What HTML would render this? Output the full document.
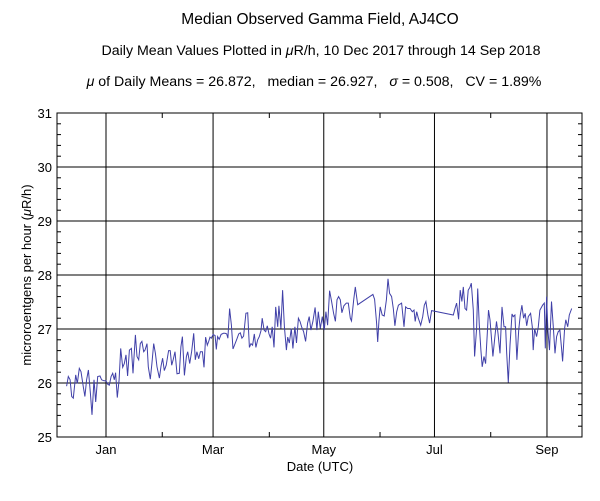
<!DOCTYPE html>
<html><head><meta charset="utf-8"><style>
body{margin:0;background:#fff;}
svg text{font-family:"Liberation Sans",sans-serif;fill:#000;}
</style></head><body>
<svg id="chart" width="600" height="496" xmlns="http://www.w3.org/2000/svg">
<text x="320" y="24" font-size="15.5" text-anchor="middle">Median Observed Gamma Field, AJ4CO</text>
<text x="321" y="55" font-size="14.2" text-anchor="middle">Daily Mean Values Plotted in <tspan font-style="italic">μ</tspan>R/h, 10 Dec 2017 through 14 Sep 2018</text>
<text x="314" y="86" font-size="14.2" text-anchor="middle" style="white-space:pre" xml:space="preserve"><tspan font-style="italic">μ</tspan> of Daily Means = 26.872,   median = 26.927,   <tspan font-style="italic">σ</tspan> = 0.508,   CV = 1.89%</text>
<g id="grid"></g><g id="ticks"></g><g id="labels"></g><g id="series"></g>
<rect x="57" y="113" width="525" height="324" fill="none" stroke="#000" stroke-width="1"/>
<text x="320" y="471" font-size="13" text-anchor="middle">Date (UTC)</text>
<text transform="translate(31,275) rotate(-90)" font-size="13" text-anchor="middle">microroentgens per hour (<tspan font-style="italic">μ</tspan>R/h)</text>
</svg>
<script>
// day offsets from 1 Jan 2018
const days=[-21.7,-20.8,-19.8,-18.9,-18.0,-16.7,-15.8,-14.7,-13.8,-12.5,-11.6,-10.7,-9.7,-8.6,-7.7,-6.6,-5.7,-4.6,-3.3,-2.4,-1.1,0.0,0.9,1.8,2.8,3.7,4.6,5.3,6.2,7.2,8.1,9.2,10.1,11.0,11.9,12.9,14.0,14.9,16.2,17.1,18.0,18.9,19.8,20.8,21.5,22.6,23.3,24.4,25.3,26.3,27.2,28.1,29.4,30.3,31.2,32.1,33.2,34.5,35.4,36.2,37.1,38.0,39.1,40.4,41.3,42.1,43.2,44.3,45.0,46.1,47.2,48.3,49.2,50.1,51.1,52.0,53.1,54.0,54.9,55.8,56.6,57.3,58.0,59.0,60.1,60.8,61.5,62.4,63.4,64.7,65.6,66.5,67.2,68.1,69.1,70.0,72.2,73.1,74.0,74.9,75.8,77.1,78.1,79.0,79.9,80.8,81.7,82.6,83.6,84.5,85.4,86.1,87.1,88.0,88.9,89.8,90.7,91.6,92.6,93.5,94.6,95.3,96.4,97.3,98.3,99.4,100.1,101.0,102.1,103.0,104.1,105.0,106.0,106.9,107.8,108.9,110.0,111.1,112.0,112.9,114.0,115.2,116.2,117.0,118.1,119.2,120.3,121.2,122.1,123.2,124.3,125.4,126.4,127.3,128.2,129.1,130.0,131.1,132.4,133.5,134.6,135.3,136.5,137.4,138.7,147.1,148.0,149.1,149.7,150.4,151.1,152.2,153.3,154.5,155.4,156.3,157.4,158.3,159.2,160.2,161.1,162.9,164.2,165.1,166.2,167.5,168.8,169.7,170.4,171.2,172.1,173.4,174.5,175.4,176.3,177.4,178.3,179.4,191.4,192.3,193.2,194.3,195.2,196.1,196.9,197.8,198.7,199.6,200.5,201.3,202.4,203.1,204.2,204.8,205.7,206.6,207.3,208.3,209.2,210.1,210.8,211.6,212.5,213.2,214.3,215.2,216.0,217.1,218.2,219.3,220.2,220.8,221.7,222.6,223.7,224.4,225.3,226.4,227.4,228.3,229.2,230.1,231.0,231.8,232.7,234.0,234.9,235.4,236.2,237.3,238.2,239.1,240.6,241.5,242.1,242.8,243.5,244.4,245.5,246.5,247.4,248.3,249.2,250.1,251.1,251.6,252.7,253.4,254.4,255.3,256.6];
const values=[25.94,26.12,26.06,25.75,25.72,26.15,25.99,26.27,26.21,25.93,25.75,26.06,26.24,25.81,25.41,26.06,25.65,26.12,26.13,26.06,26.04,26.04,25.98,25.96,26.12,26.18,26.06,26.19,25.73,26.06,26.64,26.29,26.36,26.52,26.13,26.61,26.64,26.18,26.89,26.49,26.43,26.73,26.77,26.58,26.61,26.73,26.30,26.07,26.36,26.73,26.55,26.30,26.09,26.31,26.46,26.23,26.33,26.60,26.60,26.33,26.44,26.58,26.17,26.18,26.67,26.86,26.14,26.49,26.58,26.36,26.59,26.92,26.43,26.58,26.45,26.58,26.58,26.29,26.85,26.70,26.77,26.85,26.83,26.90,26.88,26.62,26.86,26.81,26.90,26.92,26.92,26.91,26.83,27.38,27.07,26.63,26.82,26.91,26.93,26.83,26.87,27.29,27.30,26.66,26.73,26.70,26.91,26.66,26.80,26.86,26.97,27.20,26.98,26.95,27.06,26.91,26.83,27.04,26.66,27.41,27.04,27.43,27.01,27.72,27.04,26.61,26.85,26.74,27.01,26.64,27.04,26.74,27.20,27.14,27.04,26.95,26.77,27.11,27.23,26.98,27.14,27.40,26.98,27.32,27.01,27.23,26.98,27.32,27.07,27.71,27.51,27.29,27.14,27.54,27.60,27.54,27.30,27.43,27.48,27.48,27.20,27.15,27.54,27.78,27.45,27.64,27.55,27.11,26.76,27.14,27.41,27.26,27.24,27.54,27.93,27.66,27.60,27.38,27.06,27.32,27.44,27.48,27.04,27.41,27.38,27.38,27.32,27.35,27.14,27.32,27.20,27.07,27.23,27.44,27.51,27.26,27.11,27.34,27.26,27.38,27.48,27.18,27.72,27.51,27.78,27.38,27.35,27.72,27.77,27.85,27.35,26.49,27.01,27.75,27.07,26.61,26.30,26.49,26.36,26.92,27.35,27.17,26.80,26.49,26.86,27.14,26.92,26.55,27.41,27.04,27.04,26.55,26.01,26.70,27.28,27.23,27.26,26.43,26.98,27.26,27.44,27.20,27.29,27.06,27.23,27.29,27.04,26.61,27.01,26.86,27.04,27.35,27.44,27.48,26.64,27.60,26.98,26.61,27.51,27.04,26.55,26.86,26.95,26.98,26.61,26.40,27.01,27.17,27.04,27.26,27.38];
const yTicks=[25,26,27,28,29,30,31];
const monthStarts=[0,31,59,90,120,151,181,212,243];
const monthLabels=["Jan","","Mar","","May","","Jul","","Sep"];

const X0=57,X1=582,Y0=437,Y1=113,DMAX=262.3;
const xs=d=>106+(d)*( (X1-106)/DMAX );
const ys=v=>Y0-(v-25)/6*(Y0-Y1);
const NS="http://www.w3.org/2000/svg";
function mk(tag,attrs,parent){const e=document.createElementNS(NS,tag);for(const k in attrs)e.setAttribute(k,attrs[k]);document.getElementById(parent).appendChild(e);return e;}
yTicks.forEach(v=>{
  const y=ys(v);
  const g=mk('line',{x1:X0,x2:X1,y1:y,y2:y,stroke:'#000','stroke-width':1},'grid');
  
  
  const t=mk('text',{x:X0-5,y:y+5,'font-size':13,'text-anchor':'end'},'labels');
  t.textContent=v;
  
  
  if(v<31){for(let k=1;k<5;k++){const yy=ys(v+k*0.2);
    const m1=mk('line',{x1:X0,x2:X0+4,y1:yy,y2:yy,stroke:'#000'},'ticks');
    
    
    const m2=mk('line',{x1:X1-4,x2:X1,y1:yy,y2:yy,stroke:'#000'},'ticks');
    
    }}
});
monthStarts.forEach((d,i)=>{
  const x=xs(d);
  if(monthLabels[i]){
    const g=mk('line',{x1:x,x2:x,y1:Y1,y2:Y0,stroke:'#000','stroke-width':1},'grid');
    
    
    const t=mk('text',{x:x,y:Y0+17,'font-size':13,'text-anchor':'middle'},'labels');
    t.textContent=monthLabels[i];
    
    
  } else {
    const a=mk('line',{x1:x,x2:x,y1:Y0-5,y2:Y0,stroke:'#000'},'ticks');
    
    
    const b=mk('line',{x1:x,x2:x,y1:Y1,y2:Y1+5,stroke:'#000'},'ticks');
    
    
  }
});
const pts=days.map((d,i)=>xs(d).toFixed(1)+','+ys(values[i]).toFixed(1)).join(' ');
const pl=mk('polyline',{points:pts,fill:'none',stroke:'#4040a8','stroke-width':1},'series');


</script>
</body></html>
